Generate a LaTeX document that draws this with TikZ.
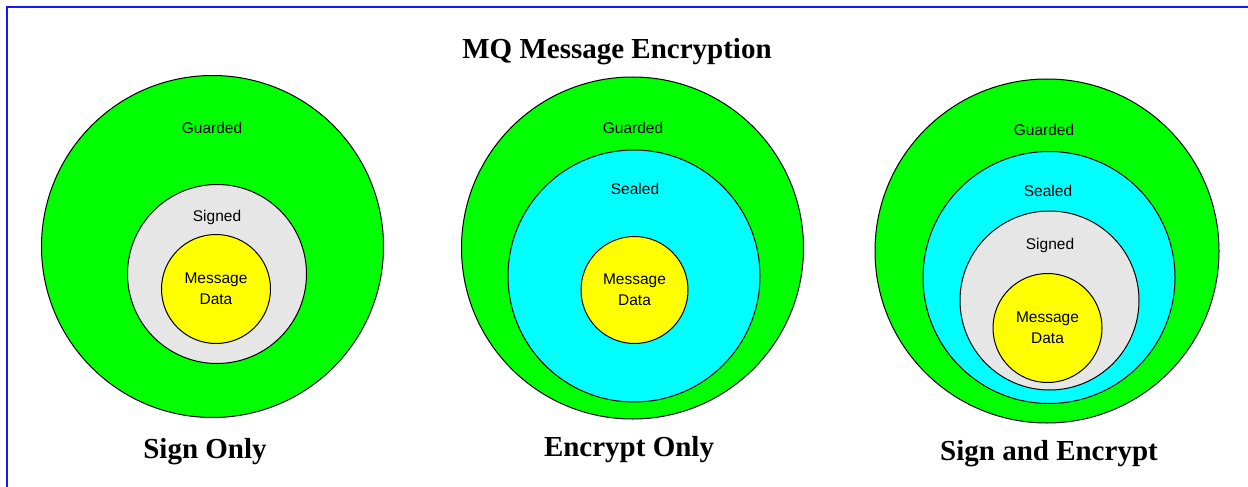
\documentclass[tikz,border=0pt]{standalone}
\usepackage{fontspec}
\setmainfont{Liberation Serif}
\setsansfont{Liberation Sans}
\usetikzlibrary{positioning}
\definecolor{guardgreen}{RGB}{0,255,0}
\definecolor{sealcyan}{RGB}{0,255,255}
\definecolor{signgray}{RGB}{230,230,230}
\definecolor{datayellow}{RGB}{255,255,0}
\definecolor{frameblue}{RGB}{20,20,255}

\begin{document}
\begin{tikzpicture}[x=1pt,y=-1pt,line width=1pt,
    ring/.style={circle,draw,inner sep=0pt},
    datatag/.style={font=\sffamily\fontsize{15.5}{21}\selectfont,align=center},
    tag/.style={font=\sffamily\fontsize{15.5}{21}\selectfont,inner sep=0pt,text height=11pt,text depth=0pt},
    caption/.style={font=\bfseries\fontsize{29}{33}\selectfont,inner sep=0pt,text height=19pt,text depth=0pt}]

                \useasboundingbox (0,0) rectangle (1248,487);
                \coordinate (fa) at (7,487);
                \coordinate (fb) at (7,7);
                \coordinate (fc) at (1248,7);
                \draw[frameblue, line width=2pt] (fa) -- (fb) -- (fc);

                \node[caption] (title) at (617,49.5) {MQ Message Encryption};

                % sign only
                \node[ring, fill=guardgreen, minimum size=342]  (1) at (212.5,246.5) {};
                \node[ring, fill=signgray, minimum size=179]  (2) at (217,274) {};
                \node[ring, fill=datayellow, minimum size=109, datatag]  (3) at (216,289) {Message\\Data};
                \node[tag]  (1t) at (212,128) {Guarded};
                \node[tag]  (2t) at (217,216) {Signed};
                \node[caption]  (1c) at (205,448.5) {Sign Only};

                % encrypt only
                \node[ring, fill=guardgreen, minimum size=342]  (1b) at (632.5,248) {};
                \node[ring, fill=sealcyan, minimum size=252]  (2b) at (634,276) {};
                \node[ring, fill=datayellow, minimum size=107, datatag]  (3b) at (634.5,290) {Message\\Data};
                \node[tag]  (1bt) at (633,128) {Guarded};
                \node[tag]  (2bt) at (635,189) {Sealed};
                \node[caption]  (1bc) at (629,447) {Encrypt Only};

                % sign and encrypt
                \node[ring, fill=guardgreen, minimum size=344]  (1d) at (1047,251) {};
                \node[ring, fill=sealcyan, minimum size=252]  (2d) at (1049,277.5) {};
                \node[ring, fill=signgray, minimum size=179]  (3d) at (1049.5,300.5) {};
                \node[ring, fill=datayellow, minimum size=109, datatag]  (4d) at (1047.5,328) {Message\\Data};
                \node[tag]  (1dt) at (1044,130) {Guarded};
                \node[tag]  (2dt) at (1048,191) {Sealed};
                \node[tag]  (3dt) at (1050,244) {Signed};
                \node[caption]  (1dc) at (1049,450.5) {Sign and Encrypt};
            \end{tikzpicture}
\end{document}
